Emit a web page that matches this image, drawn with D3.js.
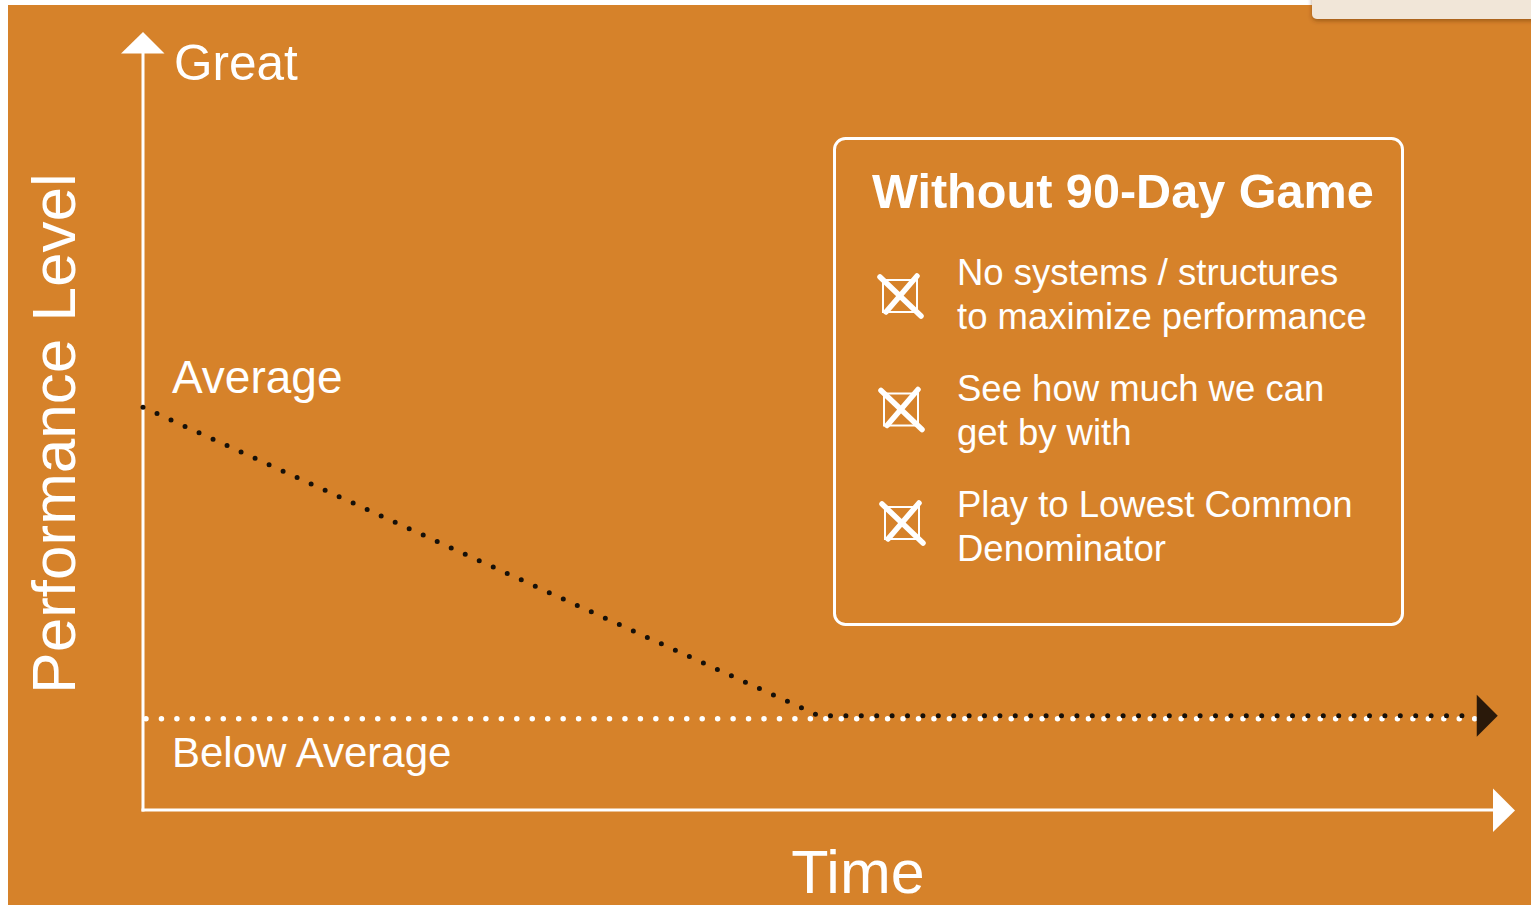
<!DOCTYPE html>
<html>
<head>
<meta charset="utf-8">
<script src="https://cdn.jsdelivr.net/npm/d3@7"></script>
<style>
  body { margin: 0; background: #fff; }
  svg { display: block; }
  text { font-family: "Liberation Sans", Arial, Helvetica, sans-serif; fill: #fff; }
</style>
</head>
<body>
<svg></svg>
<script>
const width = 1531;
const height = 905;

// performance levels (y value 0..100) and their labels
const levelNames = ['Below Average', 'Average', 'Great'];
const levelValues = [12, 53, 100];

// "without 90-day game" path: time vs performance
const declineTime = [0, 50, 98.5];
const declinePerf = [53, 12.4, 12.4];

// below average baseline
const baselineTime = [0, 98.5];
const baselinePerf = [12, 12];

const boxTitle = 'Without 90-Day Game';
const reasons = [
  ['No systems / structures', 'to maximize performance'],
  ['See how much we can', 'get by with'],
  ['Play to Lowest Common', 'Denominator']
];

const orange = '#D6822A';

const svg = d3.select('svg')
  .attr('width', width)
  .attr('height', height)
  .attr('viewBox', `0 0 ${width} ${height}`);

const x = d3.scaleLinear().domain([0, 100]).range([143, 1495]);
const y = d3.scaleLinear().domain([0, 100]).range([810, 50]);

svg.append('rect')
  .attr('x', 8).attr('y', 5)
  .attr('width', width - 8).attr('height', height - 5)
  .attr('fill', orange);

// little notification popup cut off at top right
const defs = svg.append('defs');
const shadow = defs.append('filter').attr('id', 'shadow').attr('x', -0.2).attr('y', -0.5).attr('width', 1.4).attr('height', 2);
shadow.append('feDropShadow').attr('dx', 0).attr('dy', 2).attr('stdDeviation', 2).attr('flood-color', '#5a2e00').attr('flood-opacity', 0.45);
svg.append('rect')
  .attr('x', 1312).attr('y', -10)
  .attr('width', 240).attr('height', 29)
  .attr('rx', 5)
  .attr('fill', '#F1E6D8')
  .attr('filter', 'url(#shadow)');

// axes
const axisColor = '#fff';
svg.append('path')
  .attr('d', d3.line()([[x(0), y(0) + 1.5], [x(0), y(100) + 3]]))
  .attr('stroke', axisColor).attr('stroke-width', 3).attr('fill', 'none');
svg.append('path')
  .attr('d', d3.line()([[x(0) - 1.5, y(0)], [x(100) - 2, y(0)]]))
  .attr('stroke', axisColor).attr('stroke-width', 3).attr('fill', 'none');

// arrow heads
const yTop = y(100);
svg.append('path')
  .attr('d', `M${x(0)},${yTop - 18} L${x(0) + 21.5},${yTop + 3.5} L${x(0) - 22},${yTop + 3.5} Z`)
  .attr('fill', axisColor);
const xEnd = x(100);
svg.append('path')
  .attr('d', `M${xEnd + 20},${y(0) + 0.5} L${xEnd - 2},${y(0) - 21.5} L${xEnd - 2},${y(0) + 22} Z`)
  .attr('fill', axisColor);

// level labels
const labelPos = [
  { dx: 29, dy: 48, size: 42 },
  { dx: 29, dy: -14, size: 46 },
  { dx: 31, dy: 30, size: 49.5 }
];
svg.selectAll('text.level')
  .data(levelNames)
  .join('text')
  .attr('class', 'level')
  .attr('x', (d, i) => x(0) + labelPos[i].dx)
  .attr('y', (d, i) => y(levelValues[i]) + labelPos[i].dy)
  .attr('font-size', (d, i) => labelPos[i].size)
  .text(d => d);

// axis titles
svg.append('text')
  .attr('transform', `translate(75, ${(175 + 692) / 2}) rotate(-90)`)
  .attr('text-anchor', 'middle')
  .attr('font-size', 62)
  .text('Performance Level');

svg.append('text')
  .attr('x', 858).attr('y', 893)
  .attr('text-anchor', 'middle')
  .attr('font-size', 61)
  .text('Time');

// dotted lines
const line = d3.line().x(d => x(d[0])).y(d => y(d[1]));

svg.append('path')
  .datum(d3.zip(baselineTime, baselinePerf))
  .attr('d', line)
  .attr('fill', 'none')
  .attr('stroke', '#fff')
  .attr('stroke-width', 5.5)
  .attr('stroke-linecap', 'round')
  .attr('stroke-dasharray', '0 15.45')
  .attr('stroke-dashoffset', -3);

svg.append('path')
  .datum(d3.zip(declineTime, declinePerf))
  .attr('d', line)
  .attr('fill', 'none')
  .attr('stroke', '#161009')
  .attr('stroke-width', 5)
  .attr('stroke-linecap', 'round')
  .attr('stroke-dasharray', '0 15.4');

// dark arrow head at end of decline
const endX = x(declineTime[2]);
const endY = y(declinePerf[2]);
svg.append('path')
  .attr('d', `M${endX + 2},${endY - 21} L${endX + 23},${endY} L${endX + 2},${endY + 21} Z`)
  .attr('fill', '#2A190A');

// box
const box = svg.append('g');
box.append('rect')
  .attr('x', 834.5).attr('y', 138.5)
  .attr('width', 568).attr('height', 486)
  .attr('rx', 11)
  .attr('fill', 'none')
  .attr('stroke', '#fff')
  .attr('stroke-width', 3);

box.append('text')
  .attr('x', 872).attr('y', 208)
  .attr('font-size', 48.6)
  .attr('font-weight', 'bold')
  .text(boxTitle);

const items = box.selectAll('g.reason')
  .data(reasons)
  .join('g')
  .attr('class', 'reason')
  .attr('transform', (d, i) => `translate(0, ${285 + i * 116})`);

items.append('text')
  .attr('x', 957)
  .attr('font-size', 36.5)
  .selectAll('tspan')
  .data(d => d)
  .join('tspan')
  .attr('x', 957)
  .attr('y', (d, i) => i * 44)
  .text(d => d);

// crossed-out box icons
const icon = items.append('g')
  .attr('transform', (d, i) => `translate(${900 + i}, ${11 - i * 2.5})`);
icon.append('rect')
  .attr('x', -17).attr('y', -16)
  .attr('width', 34).attr('height', 32)
  .attr('fill', 'none')
  .attr('stroke', '#fff')
  .attr('stroke-width', 2);
icon.append('path')
  .attr('d', 'M-20,-19 L21,20 M17,-20 L-14,16')
  .attr('stroke', '#fff')
  .attr('stroke-width', 5.5)
  .attr('stroke-linecap', 'round');
</script>
</body>
</html>
